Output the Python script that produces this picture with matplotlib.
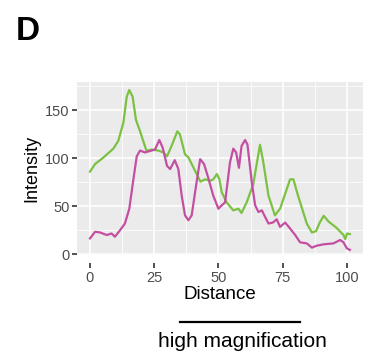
import matplotlib
matplotlib.use("Agg")
import matplotlib.pyplot as plt
from matplotlib.ticker import MultipleLocator

plt.rcParams['font.family'] = ['Liberation Sans', 'DejaVu Sans']

green_x = [0, 2, 5.2, 9.1, 11, 13, 14.3, 15.3, 16.6, 17.9, 19.5, 22, 24, 26.6, 28.6, 30,
           31.8, 34, 35, 37, 38.3, 40.9, 43, 44.8, 46.8, 48, 49.4, 50.4, 51.3, 53.2, 55.8,
           57.8, 59, 61, 63.6, 65, 66.2, 67.5, 69.5, 72, 74, 76, 77.9, 79.2, 81, 84.4,
           86.4, 88, 89.6, 91, 92.9, 96, 98.7, 99.4, 100.1, 101.2]
green_y = [86, 94, 100.7, 110, 118, 137, 164, 171, 164, 140, 128, 107.6, 109, 108, 106, 102,
           113, 128, 125, 104, 101, 87, 75.6, 78, 76.6, 78, 83.5, 78, 64.6, 54, 45.7,
           47.4, 43, 54, 73, 95.5, 114, 95.5, 61, 40.5, 47.4, 63, 78, 78, 61, 32,
           22.7, 24, 33.7, 40, 34, 27.5, 20, 15.8, 21.6, 21]

mag_x = [0, 2, 3.9, 6.5, 8.4, 9.7, 11.7, 13.6, 15.3, 16.9, 18.2, 19.5, 21.4, 23.4, 25.3,
         27, 28.3, 30, 31.2, 33, 34.4, 35.7, 37, 38.3, 39.6, 41.3, 42.9, 44.4, 46, 48,
         50, 51.3, 52.6, 54.5, 55.8, 56.9, 58, 59, 60.4, 61.3, 63, 64.3, 65.6, 66.9,
         68.2, 69.5, 71.2, 72.7, 74, 76, 77.9, 79.9, 81.8, 84.4, 86.4, 88.3, 90.9,
         94.8, 97.4, 98.7, 100, 101.2]
mag_y = [16.5, 23.4, 22.7, 20, 21.6, 18.2, 25, 32, 47.4, 78, 102, 108, 106, 107.6, 109,
         119, 111, 92, 88.7, 98, 88.7, 61, 40.5, 35.4, 40.5, 71.5, 99, 94, 80, 61,
         47.4, 51, 54, 95.5, 110, 106, 90, 112.7, 119, 114.4, 75, 51, 44, 45.7,
         38.8, 32, 33, 36.4, 28.5, 33, 26.8, 20, 12.4, 11.3, 6.9, 8.9, 10.3,
         11.3, 14.8, 12.4, 6.2, 4.5]

x_ticks = [0, 25, 50, 75, 100]
y_ticks = [0, 50, 100, 150]

fig = plt.figure(figsize=(3.66, 3.56), dpi=100)
ax = fig.add_axes([77/366, 1 - 255/356, (363 - 77)/366, (255 - 82)/356])
ax.set_facecolor('#EBEBEB')
for s in ax.spines.values():
    s.set_visible(False)
ax.spines['bottom'].set_position(('outward', 6))

ax.plot(green_x, green_y, color='#7BC143', lw=1.6, solid_joinstyle='round', zorder=3)
ax.plot(mag_x, mag_y, color='#C44FA2', lw=1.6, solid_joinstyle='round', zorder=3)

ax.set_xlim(-5.06, 106.3)
ax.set_ylim(-0.8, 179.4)
ax.set_xticks(x_ticks)
ax.set_yticks(y_ticks)
ax.xaxis.set_minor_locator(MultipleLocator(12.5))
ax.yaxis.set_minor_locator(MultipleLocator(25))
ax.grid(True, which='major', color='white', lw=1.1, zorder=0)
ax.grid(True, which='minor', color='white', lw=0.55, zorder=0)
ax.set_axisbelow(True)
ax.tick_params(which='minor', length=0)
ax.tick_params(which='major', length=3.5, width=1.2, color='#333333',
               labelcolor='#4D4D4D', labelsize=10.5, pad=2)

ax.set_xlabel('Distance', fontsize=13.5, color='black', labelpad=1)
ax.set_ylabel('Intensity', fontsize=13, color='black', labelpad=3)

fig.text(16/366, 1 - 40/356, 'D', fontsize=24, fontweight='bold', ha='left', va='baseline')
fig.add_artist(plt.Line2D([180/366, 300/366], [1 - 322/356, 1 - 322/356],
                          color='black', lw=1.6))
fig.text(242/366, 1 - 347/356, 'high magnification', fontsize=15,
         ha='center', va='baseline')

fig.savefig('out.png', dpi=100)
